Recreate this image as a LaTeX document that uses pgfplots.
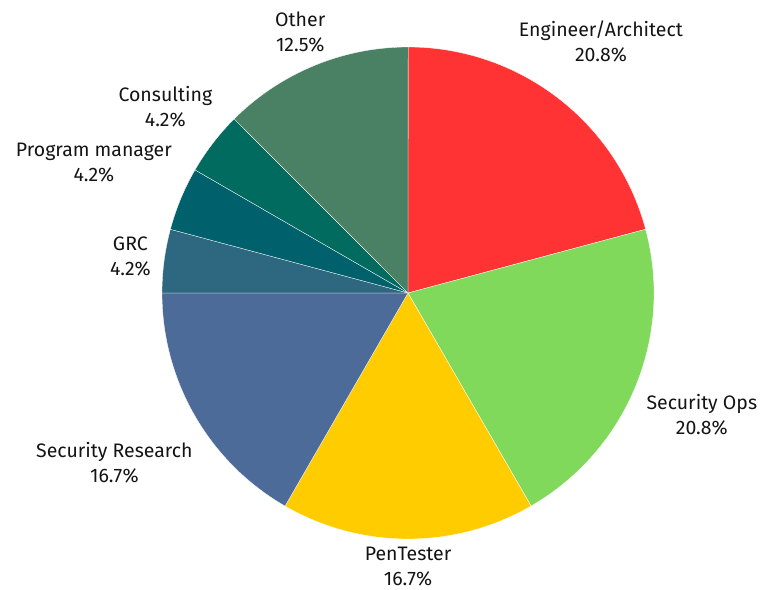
\documentclass[border=0pt]{standalone}
\usepackage{fontspec}
\setmainfont{Fira Sans}
\usepackage{pgfplots}
\usepackage{pgfplotstable}
\pgfplotsset{compat=1.18}

\definecolor{cEng}{HTML}{FF3333}
\definecolor{cOps}{HTML}{80D95A}
\definecolor{cPen}{HTML}{FFCC00}
\definecolor{cRes}{HTML}{4D6B98}
\definecolor{cGRC}{HTML}{2E6880}
\definecolor{cPM}{HTML}{00606B}
\definecolor{cCon}{HTML}{006B5E}
\definecolor{cOth}{HTML}{4A8164}

% share of respondents (%), slice colour, distance of the label from the centre
\pgfplotstableread[col sep=comma]{
name,value,colour,labelr
Engineer/Architect,20.83,cEng,317
Security Ops,20.83,cOps,318
PenTester,16.67,cPen,274
Security Research,16.67,cRes,339
GRC,4.17,cGRC,280
Program manager,4.17,cPM,340
Consulting,4.17,cCon,306
Other,12.5,cOth,282
}\piedata

\def\cx{408}
\def\cy{294}
\def\rad{246}

\begin{document}
\begin{tikzpicture}
\begin{axis}[
    width=761pt, height=587pt, scale only axis,
    xmin=0, xmax=761, ymin=0, ymax=587,
    hide axis, clip=false,
    /pgf/number format/assume math mode=true,
  ]
\path (axis cs:0,0) rectangle (axis cs:761,587);
\gdef\cum{0}
\pgfplotsinvokeforeach{0,...,7}{%
  \pgfplotstablegetelem{#1}{value}\of\piedata \let\v\pgfplotsretval
  \pgfplotstablegetelem{#1}{name}\of\piedata \let\nm\pgfplotsretval
  \pgfplotstablegetelem{#1}{colour}\of\piedata \let\col\pgfplotsretval
  \pgfplotstablegetelem{#1}{labelr}\of\piedata \let\lr\pgfplotsretval
  \pgfmathsetmacro\sa{90-\cum*3.6}
  \pgfmathsetmacro\ea{90-(\cum+\v)*3.6}
  \pgfmathsetmacro\ma{(\sa+\ea)/2}
  \pgfmathsetmacro\sx{\cx+\rad*cos(\sa)}
  \pgfmathsetmacro\sy{\cy+\rad*sin(\sa)}
  \pgfmathsetmacro\lx{\cx+\lr*cos(\ma)}
  \pgfmathsetmacro\ly{\cy+\lr*sin(\ma)}
  \pgfmathsetmacro\cumnew{\cum+\v}
  \xdef\cum{\cumnew}
  \edef\temp{%
    \noexpand\fill[fill=\col, draw=white, line width=0.3pt]
      (axis cs:\cx,\cy) -- (axis cs:\sx,\sy)
      arc[start angle=\sa, end angle=\ea, radius=\rad pt] -- cycle;
    \noexpand\node[align=center, font=\noexpand\fontsize{19.5}{25}\noexpand\selectfont,
      text=black!92] at (axis cs:\lx,\ly)
      {\nm\noexpand\\\noexpand\pgfmathprintnumber[fixed,fixed zerofill,precision=1,assume math mode=true]{\v}\noexpand\%};
  }%
  \temp
}
\end{axis}
\end{tikzpicture}
\end{document}
